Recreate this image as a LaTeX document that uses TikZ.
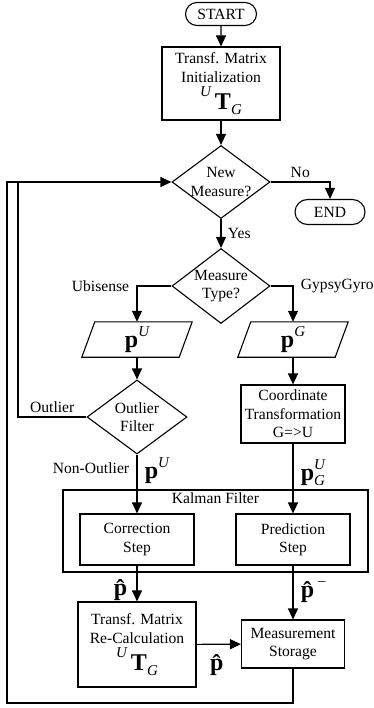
\documentclass[tikz,border=0pt]{standalone}
\usepackage{fontspec}
\setmainfont{Liberation Serif}
\usetikzlibrary{shapes.geometric,shapes.misc,arrows.meta}

\newcommand{\mathsz}{\fontsize{24}{26}\selectfont}
\newcommand{\smit}{\fontsize{15}{17}\selectfont\itshape}
\newcommand{\vsup}[1]{\raisebox{11pt}{\smit #1}}
\newcommand{\vsub}[1]{\raisebox{-5pt}{\smit #1}}
\newcommand{\matUTG}{{\mathsz\raisebox{13pt}{\smit U}\,\textbf{T}\vsub{G}}}
\tikzset{
  line/.style={line width=1.1pt},
  arr/.style={line width=1.1pt, -{Triangle[length=11pt,width=10pt]}},
  proc/.style={draw, line width=1.1pt, align=center, inner sep=1pt},
  term/.style={draw, line width=1.1pt, rounded rectangle, inner sep=2pt},
  decision/.style={draw, line width=1.1pt, diamond, inner sep=0pt},
  io/.style={minimum width=97pt, minimum height=35pt, inner sep=0pt}
}

\begin{document}
\begin{tikzpicture}[x=1pt, y=-1pt, font=\fontsize{15.6}{18.5}\selectfont]
  \useasboundingbox (0,0) rectangle (374,708);

  % start and init
  \node[term, minimum width=75pt, minimum height=23pt] (start) at (221,14) {START};
  \node[proc, minimum width=118pt, minimum height=73pt] (init) at (221,83.5)
    {Transf. Matrix\\Initialization\\[3pt]\matUTG};

  % first decision
  \node[decision, minimum width=98pt, minimum height=73pt,
    label={[align=center]center:New\\Measure?}] (new) at (221,182) {};
  \node[term, minimum width=74pt, minimum height=25pt] (stop) at (330,212) {END};

  % measure type
  \node[decision, minimum width=98pt, minimum height=75pt,
    label={[align=center]center:Measure\\Type?}] (type) at (221,286) {};

  % data in (parallelograms)
  \node[io] (pu) at (137,339.5) {\mathsz\textbf{p}\vsup{U}};
  \draw[line] ([xshift=6.5pt]pu.north west) -- ([xshift=6.5pt]pu.north east)
    -- ([xshift=-6.5pt]pu.south east) -- ([xshift=-6.5pt]pu.south west) -- cycle;
  \node[io] (pg) at (293,339.5) {\mathsz\textbf{p}\vsup{G}};
  \draw[line] ([xshift=6.5pt]pg.north west) -- ([xshift=6.5pt]pg.north east)
    -- ([xshift=-6.5pt]pg.south east) -- ([xshift=-6.5pt]pg.south west) -- cycle;

  % outlier filter and coordinate transformation
  \node[decision, minimum width=100pt, minimum height=74pt,
    label={[align=center]center:Outlier\\Filter}] (outl) at (137,417) {};
  \node[proc, minimum width=104pt, minimum height=58pt] (coord) at (293,414)
    {Coordinate\\Transformation\\G=>U};

  % Kalman filter
  \node[draw, line, minimum width=305pt, minimum height=82pt,
    label={[anchor=north]north:Kalman Filter}] (kf) at (215.5,531) {};
  \node[proc, minimum width=114pt, minimum height=51pt] (corr) at (137,539.5) {Correction\\Step};
  \node[proc, minimum width=114pt, minimum height=51pt] (pred) at (293,539.5) {Prediction\\Step};

  % bottom
  \node[proc, minimum width=118pt, minimum height=85pt] (recalc) at (137,644.5)
    {Transf. Matrix\\Re-Calculation\\[3pt]\matUTG};
  \node[proc, minimum width=103pt, minimum height=48pt] (store) at (293,644) {Measurement\\Storage};

  \coordinate (loopb) at (7,703);
  \coordinate (loopo) at (18,182);

  % connectors
  \draw[arr] (start) -- (init);
  \draw[arr] (init) -- (new);
  \draw[arr] (new.east) -| (stop.north) node[pos=0.25, above] {No};
  \draw[arr] (new) -- (type) node[midway, right=3pt] {Yes};
  \draw[arr] (type.west) -| (pu.north) node[pos=0.5, left=4pt] {Ubisense};
  \draw[arr] (type.east) -| (pg.north) node[pos=0.5, right=4pt] {GypsyGyro};
  \draw[arr] (pu) -- (outl);
  \draw[arr] (pg) -- (coord);
  \draw[line] (outl.west) -| (loopo) node[pos=0.25, above] {Outlier};
  \draw[arr] (outl) -- (corr)
    node[pos=0.23, left=4pt] {Non-Outlier}
    node[pos=0.27, right=4pt] {\mathsz\textbf{p}\vsup{U}};
  \draw[arr] (coord) -- (pred)
    node[pos=0.41, right=4pt] {\mathsz\textbf{p}\rlap{\vsup{U}}\vsub{G}};
  \draw[arr] (corr) -- (recalc) node[pos=0.68, left=2pt] {\mathsz\textbf{\^{p}}};
  \draw[arr] (pred) -- (store)
    node[pos=0.49, right=4pt] {\mathsz\textbf{\^{p}}\raisebox{12pt}{\fontsize{15}{17}\selectfont\textendash}};
  \draw[arr] (recalc) -- (store) node[midway, below=6pt] {\mathsz\textbf{\^{p}}};
  % loop back
  \draw[arr] (store.south) |- (loopb) |- (new.west);
\end{tikzpicture}
\end{document}
